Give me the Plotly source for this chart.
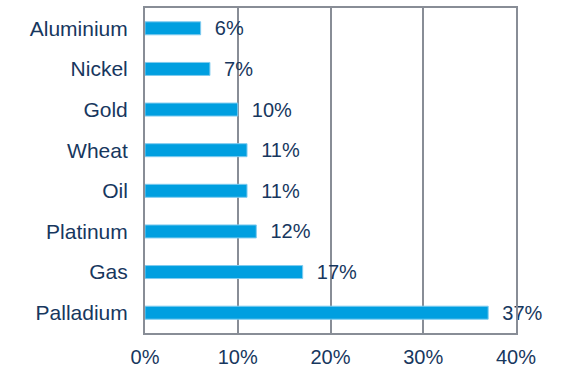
"""Commodity returns bar chart."""

import plotly.graph_objects as go

commodities = ["Aluminium", "Nickel", "Gold", "Wheat", "Oil", "Platinum", "Gas", "Palladium"]
returns_pct = [6, 7, 10, 11, 11, 12, 17, 37]
x_ticks = [0, 10, 20, 30, 40]
x_tick_labels = ["0%", "10%", "20%", "30%", "40%"]

BAR = "#009FE0"
TEXT = "#17375E"
GRID = "#888D96"

fig = go.Figure(
    go.Bar(
        x=returns_pct,
        y=commodities,
        orientation="h",
        marker=dict(color=BAR, line=dict(color="#7FCBEF", width=1)),
        text=[f"\u00a0\u00a0{v}%" for v in returns_pct],
        textposition="outside",
        constraintext="none",
        textfont=dict(color=TEXT, size=20),
        cliponaxis=False,
        hoverinfo="skip",
    )
)

fig.update_layout(
    width=562,
    height=369,
    margin=dict(l=145, r=46, t=8, b=36),
    paper_bgcolor="white",
    plot_bgcolor="white",
    bargap=0.68,
    showlegend=False,
    font=dict(family="Liberation Sans, Arial, sans-serif", size=20, color=TEXT),
    xaxis=dict(
        range=[0, 40],
        tickvals=x_ticks,
        ticktext=x_tick_labels,
        showgrid=True,
        gridcolor=GRID,
        gridwidth=2,
        showline=True,
        linecolor=GRID,
        linewidth=2,
        mirror=True,
        zeroline=False,
        ticks="",
        ticklabelstandoff=5,
        automargin=False,
        fixedrange=True,
    ),
    yaxis=dict(
        autorange="reversed",
        showgrid=False,
        showline=True,
        linecolor=GRID,
        linewidth=2,
        mirror=True,
        ticks="",
        ticklabelstandoff=11,
        tickfont=dict(size=21),
        automargin=False,
        fixedrange=True,
    ),
)

# drop the default 8px page margin so the figure sits at the window's corner
fig.write_html(
    "out.html",
    config={"displayModeBar": False},
    post_script="document.body.style.margin = '0';",
)
